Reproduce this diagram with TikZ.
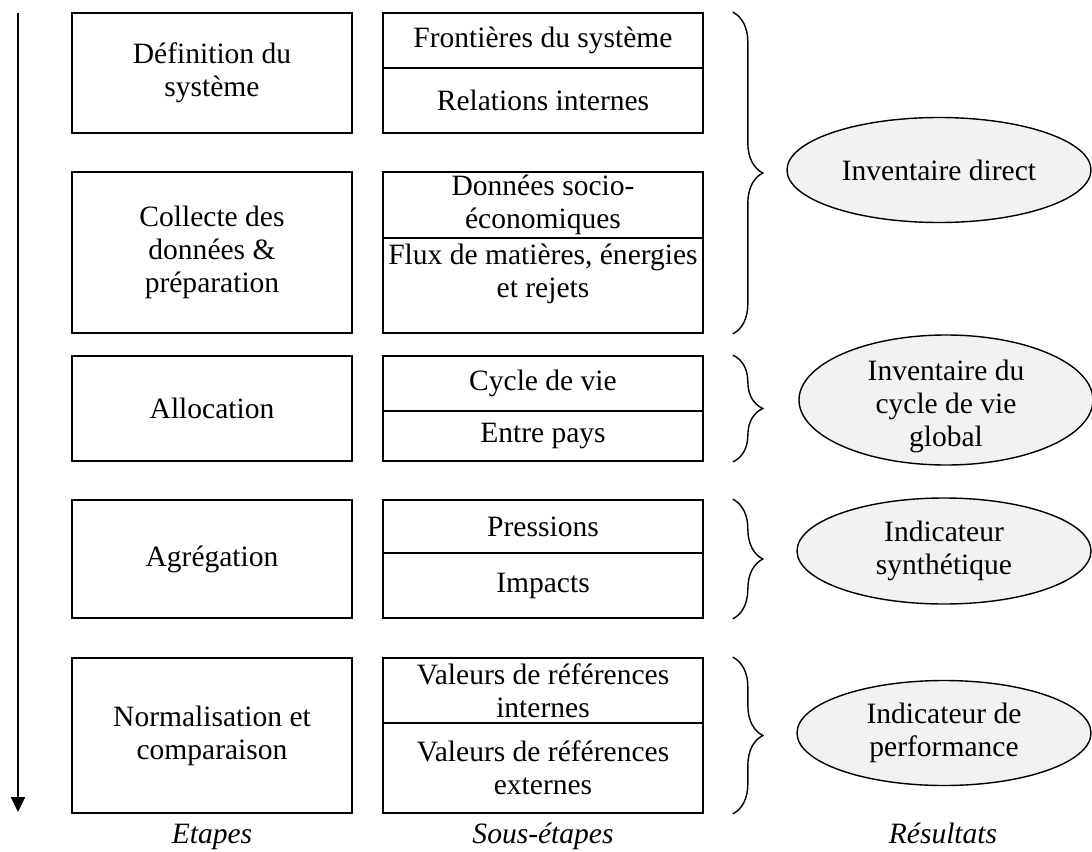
\documentclass[tikz,border=0pt]{standalone}
\usepackage{fontspec}
\setmainfont{Liberation Serif}
\usetikzlibrary{arrows.meta,shapes.geometric,decorations.pathreplacing}

\begin{document}
\begin{tikzpicture}[font=\fontsize{21}{23.5}\selectfont, line width=1.2pt,
	etape/.style={draw, minimum width=7cm, align=center, inner sep=0pt},
	sous/.style={draw, minimum width=8cm, align=center, inner sep=0pt},
	resultat/.style={draw, ellipse, fill=gray!10, align=center, inner sep=0pt, line width=1pt},
	accolade/.style={decorate, decoration={brace, amplitude=7.5mm}, line width=1pt},
	legende/.style={font=\fontsize{21}{23.5}\selectfont\itshape, anchor=base}]
	\useasboundingbox (0,0) rectangle (27.3,-21.3);
	% etapes
	\node[etape, minimum height=3cm] (e1) at (5.3,-1.825) {Définition du\\système};
	\node[etape, minimum height=4.025cm] (e2) at (5.3,-6.3125) {Collecte des\\données \&\\préparation};
	\node[etape, minimum height=2.625cm] (e3) at (5.3,-10.2125) {Allocation};
	\node[etape, minimum height=2.95cm] (e4) at (5.3,-13.975) {Agrégation};
	\node[etape, minimum height=3.875cm] (e5) at (5.3,-18.3875) {Normalisation et\\comparaison};
	% sous-etapes
	\node[sous, minimum height=1.375cm] (s1a) at (13.575,-1.0125) {Frontières du système};
	\node[sous, minimum height=1.625cm] (s1b) at (13.575,-2.5125) {Relations internes};
	\node[sous, minimum height=1.65cm] (s2a) at (13.575,-5.125) {Données socio-\\économiques};
	\node[sous, minimum height=2.375cm] (s2b) at (13.575,-7.1375) {};
	\node[align=center] (s2bt) at ([yshift=2.9mm]s2b.center) {Flux de matières, énergies\\et rejets};
	\node[sous, minimum height=1.375cm] (s3a) at (13.575,-9.5875) {Cycle de vie};
	\node[sous, minimum height=1.25cm] (s3b) at (13.575,-10.9) {Entre pays};
	\node[sous, minimum height=1.325cm] (s4a) at (13.575,-13.1625) {Pressions};
	\node[sous, minimum height=1.625cm] (s4b) at (13.575,-14.6375) {Impacts};
	\node[sous, minimum height=1.625cm] (s5a) at (13.575,-17.2625) {Valeurs de références\\internes};
	\node[sous, minimum height=2.25cm] (s5b) at (13.575,-19.2) {Valeurs de références\\externes};
	% accolades
	\draw[accolade] ([xshift=7.25mm]s1a.north east) -- ([xshift=7.25mm]s2b.south east);
	\draw[accolade] ([xshift=7.25mm]s3a.north east) -- ([xshift=7.25mm]s3b.south east);
	\draw[accolade] ([xshift=7.25mm]s4a.north east) -- ([xshift=7.25mm]s4b.south east);
	\draw[accolade] ([xshift=7.25mm]s5a.north east) -- ([xshift=7.25mm]s5b.south east);
	% resultats
	\node[resultat, minimum width=7.6cm, minimum height=2.625cm] (r1) at (23.475,-4.25) {Inventaire direct};
	\node[resultat, minimum width=7.35cm, minimum height=3.25cm] (r2) at (23.65,-10) {};
	\node[align=center] (r2t) at ([yshift=-1.7mm]r2.center) {Inventaire du\\cycle de vie\\global};
	\node[resultat, minimum width=7.35cm, minimum height=2.65cm] (r3) at (23.6,-13.775) {Indicateur\\synthétique};
	\node[resultat, minimum width=7.35cm, minimum height=2.625cm] (r4) at (23.6,-18.325) {Indicateur de\\performance};
	% fleche du temps
	\coordinate (haut) at (0.45,-0.325);
	\coordinate (bas) at (0.45,-20.3);
	\draw[-{Triangle[length=3.75mm,width=3.5mm]}, line width=1.5pt] (haut) -- (bas);
	% legendes
	\node[legende] (l1) at (5.3,-21.08) {Etapes};
	\node[legende] (l2) at (13.575,-21.08) {Sous-étapes};
	\node[legende] (l3) at (23.575,-21.08) {Résultats};
\end{tikzpicture}
\end{document}
